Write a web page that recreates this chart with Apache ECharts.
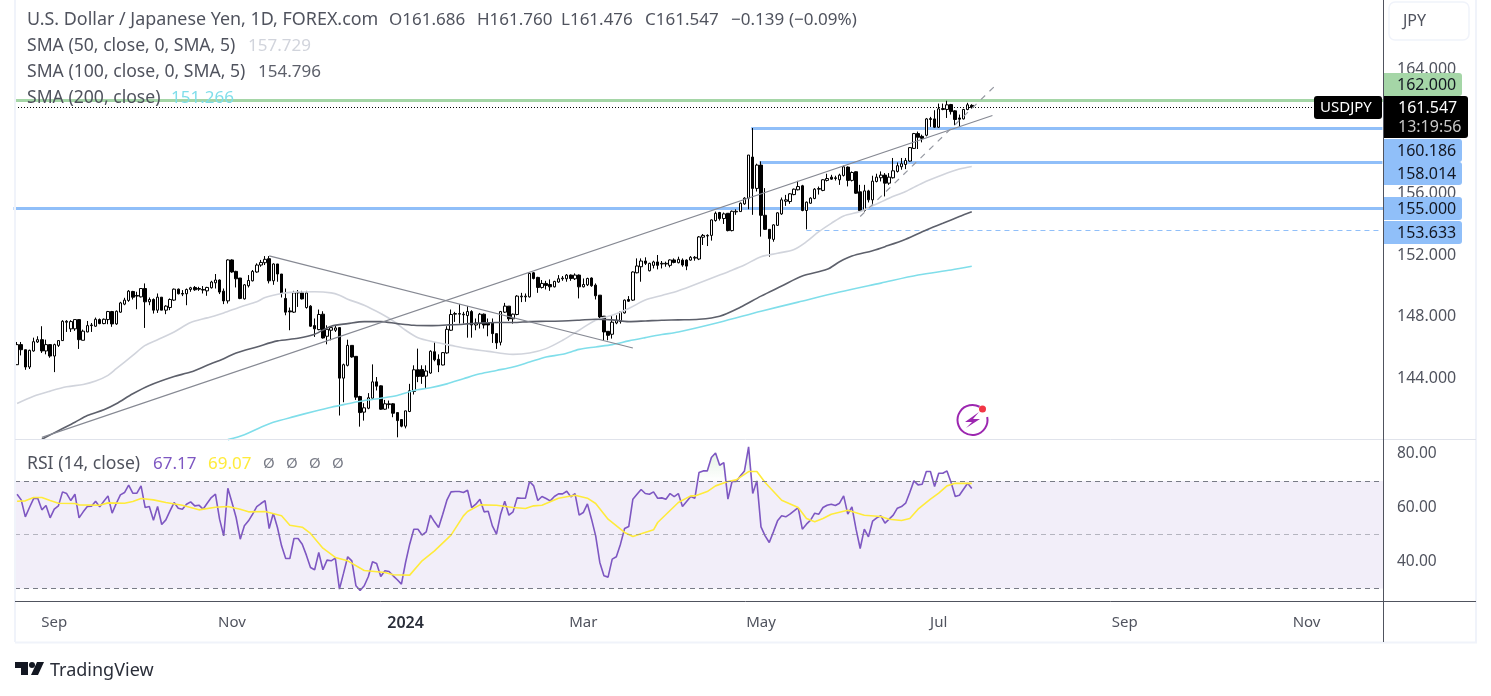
<!DOCTYPE html>
<html>
<head>
<meta charset="utf-8">
<title>USDJPY</title>
<script src="https://cdn.jsdelivr.net/npm/echarts@6/dist/echarts.min.js"></script>
<style>
html,body{margin:0;padding:0;background:#fff;}
#chart{width:1491px;height:696px;}
</style>
</head>
<body>
<div id="chart"></div>
<script>
// open, close, low, high per daily bar
var candles = [
[144.90,146.20,144.90,146.37],[146.20,145.87,145.50,146.37],[145.87,144.75,144.57,145.87],[144.75,145.83,144.62,145.87],
[145.79,146.39,145.74,146.65],[146.37,146.52,146.31,146.74],[146.52,145.79,145.66,147.39],[145.79,146.20,145.57,146.52],
[146.20,145.46,145.35,146.20],[145.46,146.20,144.42,146.26],[146.15,146.46,146.05,146.46],[146.46,147.71,146.44,147.78],
[147.65,147.71,147.02,147.78],[147.22,147.69,147.02,147.78],[147.22,147.82,147.09,147.82],[147.82,146.52,145.92,147.82],
[146.48,147.07,146.48,147.17],[147.02,147.43,147.00,147.73],[147.43,147.47,147.02,147.60],[147.39,147.84,147.35,147.95],
[147.82,147.56,147.52,147.89],[147.56,147.84,147.52,147.89],[147.82,148.34,147.52,148.38],[148.34,147.54,147.35,148.38],
[147.54,148.36,147.48,148.41],[148.30,148.90,148.26,148.97],[148.82,149.08,148.75,149.23],[149.06,149.66,148.97,149.73],
[149.64,149.27,149.12,149.68],[149.38,149.34,148.49,149.62],[149.29,149.83,149.25,149.86],[149.83,148.97,147.28,150.16],
[148.97,149.12,148.75,149.25],[149.12,148.43,148.21,149.19],[148.43,149.27,148.25,149.51],[149.27,148.43,148.43,149.27],
[148.43,148.69,148.17,148.75],[148.60,149.12,148.43,149.19],[149.08,149.79,149.03,149.83],[149.79,149.49,149.45,149.83],
[149.51,149.47,149.34,149.73],[149.49,149.77,148.75,149.83],[149.77,149.88,149.62,149.94],[149.90,149.75,149.68,149.99],
[149.83,149.79,149.68,149.94],[149.77,149.73,149.51,149.99],[149.68,149.90,149.36,149.94],[149.88,150.25,149.83,150.33],
[150.20,150.38,149.83,150.77],[150.38,149.60,149.47,150.42],[149.66,149.03,148.82,149.83],[149.03,151.68,148.86,151.72],
[151.68,150.90,150.85,151.72],[150.94,150.46,149.90,150.98],[150.51,149.19,149.14,150.51],[149.16,150.07,149.12,150.12],
[150.01,150.35,149.90,150.70],[150.33,150.94,150.29,151.03],[150.90,151.35,150.85,151.46],[151.35,151.52,151.24,151.68],
[151.50,151.72,151.35,151.93],[151.76,150.33,150.16,151.93],[150.33,151.42,150.07,151.46],[151.42,150.77,150.27,151.42],
[150.77,149.55,149.25,150.77],[149.19,148.30,148.10,149.83],[148.38,148.32,147.13,148.60],[148.30,149.55,148.25,149.68],
[149.55,149.58,148.64,149.73],[149.55,149.16,149.12,149.68],[148.60,149.55,148.53,149.68],[148.69,147.39,147.35,148.75],
[147.43,147.22,146.70,147.89],[147.17,148.15,147.13,148.47],[148.17,146.63,146.59,148.36],[146.74,147.19,146.22,147.45],
[147.13,147.30,146.48,147.39],[147.13,147.28,147.02,147.45],[147.30,144.03,141.61,147.30],[144.03,144.90,142.47,144.97],
[144.86,146.15,144.79,146.52],[146.15,145.40,145.35,146.15],[145.44,142.80,142.62,145.44],[142.84,141.80,140.89,142.89],
[141.83,142.11,141.28,142.41],[142.08,142.76,142.02,143.06],[142.73,143.79,142.69,144.92],[143.79,143.51,143.23,144.10],
[143.53,142.02,141.98,143.56],[142.02,142.37,141.98,142.62],[142.32,142.37,142.06,142.58],[142.37,141.76,141.50,142.41],
[141.80,141.28,140.20,141.80],[141.35,140.92,140.85,141.35],[140.92,141.91,140.78,141.93],[141.87,143.21,141.83,143.66],
[143.17,144.57,142.97,144.86],[144.57,144.14,143.77,145.94],[144.59,144.14,143.66,144.86],[144.16,144.49,143.34,144.86],
[144.36,145.77,144.31,145.83],[145.74,145.22,145.12,146.37],[145.25,144.88,144.42,145.57],[144.88,145.68,144.86,145.72],
[145.66,147.19,145.61,147.39],[147.13,148.15,147.09,148.47],[148.17,148.21,147.67,148.32],[148.17,148.21,147.56,148.82],
[148.13,148.17,147.56,148.32],[148.08,148.34,146.65,148.69],[148.34,147.47,146.65,148.43],[147.47,147.60,147.13,147.89],
[147.56,148.17,147.24,148.25],[148.17,147.47,147.24,148.21],[147.60,147.47,146.74,147.89],[147.60,146.91,146.31,147.89],
[146.91,146.31,145.92,146.91],[146.35,148.34,146.15,148.38],[148.30,148.69,148.25,148.90],[148.69,147.87,147.73,148.69],
[147.87,148.17,147.56,148.21],[148.15,149.34,148.10,149.40],[149.29,149.34,148.95,149.55],[149.29,149.34,148.97,149.51],
[149.29,150.81,149.25,150.85],[150.85,150.48,150.42,150.90],[150.55,149.90,149.55,150.59],[149.90,150.16,149.83,150.38],
[150.16,150.03,149.77,150.33],[150.09,149.94,149.68,150.42],[149.94,150.29,149.90,150.33],[150.25,150.46,150.20,150.70],
[150.46,150.51,150.33,150.64],[150.46,150.70,150.27,150.77],[150.70,150.48,150.33,150.74],[150.46,150.70,150.38,150.81],
[150.70,149.94,149.19,150.74],[149.94,150.09,149.90,150.48],[150.07,150.48,149.99,150.53],[150.51,150.01,149.94,150.55],
[150.05,149.36,149.12,150.16],[149.40,147.99,147.89,149.40],[148.04,147.02,146.44,148.04],[147.06,146.80,146.48,147.06],
[146.87,147.65,146.59,148.10],[147.60,147.78,147.52,148.10],[147.69,148.32,147.56,148.36],[148.25,149.08,148.21,149.12],
[149.12,149.01,148.97,149.34],[149.08,150.90,149.03,150.94],[150.85,151.29,150.81,151.78],[151.24,151.61,150.27,151.78],
[151.61,151.46,151.35,151.85],[150.98,151.46,150.94,151.50],[151.33,151.55,151.13,151.63],[151.55,151.33,151.07,152.00],
[151.42,151.46,151.13,151.61],[151.42,151.46,151.24,151.57],[151.33,151.68,151.20,151.72],[151.68,151.52,151.46,151.78],
[151.50,151.72,151.46,151.89],[151.67,151.35,151.24,151.78],[151.67,151.28,151.02,151.72],[151.67,151.85,151.63,151.93],
[151.80,151.85,151.63,151.93],[151.74,153.17,151.67,153.23],[153.15,153.27,152.65,153.36],[153.23,153.27,152.58,153.34],
[153.27,154.27,152.93,154.31],[154.23,154.70,154.16,154.81],[154.75,154.36,154.23,154.79],[154.36,154.66,154.01,154.75],
[154.70,153.58,153.53,154.70],[153.58,154.83,153.53,154.88],[154.79,154.83,154.60,154.96],[154.81,155.35,154.81,155.40],
[155.31,155.68,155.25,155.74],[155.68,158.47,154.96,158.47],[158.34,156.31,154.60,160.22],[156.31,157.82,156.11,157.91],
[157.82,154.57,153.19,158.06],[154.57,153.66,153.62,156.33],[153.66,153.06,151.89,153.66],[153.01,153.95,152.86,153.99],
[153.92,154.73,153.88,154.77],[154.66,155.57,154.60,155.72],[155.48,155.57,155.18,155.89],[155.46,155.96,155.31,156.00],
[155.91,156.26,155.87,156.30],[156.22,156.43,156.18,156.80],[156.48,154.88,154.83,156.54],[154.88,155.42,153.66,155.46],
[155.35,155.68,155.31,155.74],[155.66,156.26,155.61,156.33],[156.26,156.30,155.91,156.43],[156.18,156.87,156.13,156.91],
[156.83,156.95,156.76,157.26],[157.04,156.91,156.87,157.19],[156.95,157.00,156.82,157.13],[156.87,157.17,156.54,157.26],
[157.15,157.71,157.08,157.78],[157.69,156.83,156.44,157.73],[156.83,157.34,156.76,157.41],[157.39,156.00,155.96,157.41],
[156.09,154.88,154.81,156.54],[154.88,156.15,154.81,156.54],[156.15,155.57,155.40,156.22],[155.57,156.78,155.18,157.13],
[156.76,157.04,156.70,157.26],[157.00,157.17,156.76,157.41],[157.17,156.65,155.79,157.30],[156.65,157.04,156.54,157.30],
[157.00,157.45,156.95,158.28],[157.41,157.78,157.34,157.99],[157.71,157.91,157.52,158.28],[157.86,158.12,157.56,158.28],
[158.08,158.95,158.04,158.99],[158.90,159.86,158.86,159.90],[159.86,159.62,158.86,159.99],[159.68,159.55,159.29,159.79],
[159.75,160.81,159.68,160.87],[160.77,160.83,160.29,160.94],[160.81,160.27,160.22,161.37],[160.27,161.46,160.22,161.80],
[161.42,161.48,161.37,161.80],[161.42,161.72,160.87,161.98],[161.74,161.28,161.09,161.78],[161.33,160.77,160.40,161.37],
[160.87,160.79,160.33,161.09],[160.81,161.42,160.77,161.46],[161.42,161.72,161.37,161.85],[161.686,161.547,161.476,161.760]
];

var sma50Bars = [0,4,8,12,16,19,22,24,28,31,34,38,42,46,50,54,58,60,64,67,72,76,78,80,84,88,91,94,97,101,105,109,114,118,120,124,128,132,136,140,144,148,152,156,160,173,176,180,184,188,191,194,197,200,204,207,211,215,219,224,228,231];
var sma50Values = [142.39,142.86,143.19,143.47,143.62,143.84,144.21,144.64,145.50,146.15,146.52,147.02,147.63,147.93,148.25,148.64,148.97,149.25,149.51,149.60,149.62,149.55,149.40,149.14,148.75,148.21,147.73,147.13,146.65,146.37,146.15,145.94,145.76,145.61,145.57,145.66,145.94,146.48,147.13,147.78,148.10,148.54,149.08,149.38,149.68,151.02,151.35,151.89,152.11,152.36,152.86,153.51,154.05,154.53,154.81,155.18,155.68,156.11,156.65,157.19,157.56,157.73];

var sma100Bars = [6,10,14,17,21,24,28,32,38,42,46,50,53,58,63,68,72,76,80,84,88,92,96,100,104,108,112,116,120,124,128,132,136,140,144,148,152,156,160,165,170,175,180,185,190,196,199,202,207,210,215,220,224,228,231];
var sma100Values = [140.07,140.63,141.17,141.61,141.98,142.37,143.02,143.56,144.14,144.42,144.86,145.29,145.66,146.05,146.44,146.61,146.87,147.39,147.56,147.69,147.69,147.56,147.45,147.43,147.47,147.52,147.60,147.63,147.63,147.69,147.71,147.73,147.78,147.84,147.80,147.69,147.73,147.78,147.80,147.84,148.04,148.62,149.34,149.99,150.64,151.07,151.56,151.93,152.28,152.54,153.02,153.62,154.05,154.49,154.80];

var sma200Bars = [51,55,59,62,67,72,76,80,84,88,92,96,100,104,108,112,116,120,124,128,132,136,140,144,148,152,156,160,170,180,189,199,209,218,226,231];
var sma200Values = [140.05,140.37,140.85,141.17,141.54,141.89,142.15,142.37,142.58,142.73,142.91,143.23,143.41,143.66,143.99,144.31,144.53,144.75,145.07,145.40,145.57,145.89,146.05,146.20,146.44,146.65,146.85,147.02,147.65,148.36,148.95,149.60,150.18,150.70,151.03,151.27];

var rsiValues = [
65.05,62.95,56.64,60.10,63.44,63.57,59.24,60.84,56.26,59.48,60.72,65.92,65.30,62.70,65.05,56.26,58.49,60.47,60.60,62.45,
60.35,62.45,64.43,58.00,61.59,64.81,65.67,68.40,65.42,65.42,68.15,60.10,60.47,55.40,60.47,53.79,55.52,58.86,61.96,59.85,
59.48,61.34,62.21,60.72,60.97,59.48,61.71,63.81,65.05,55.77,49.58,67.28,61.96,56.39,48.34,53.29,55.15,57.63,60.47,61.59,
62.70,52.30,58.00,52.67,45.86,41.16,41.16,48.59,48.59,46.48,42.40,37.82,36.95,43.39,36.95,40.54,40.29,41.28,29.77,35.71,
41.78,40.29,31.01,29.27,31.01,34.47,39.92,39.30,34.47,36.58,36.33,34.72,33.24,31.63,39.67,46.48,52.05,52.05,49.83,51.06,
57.25,54.78,52.67,57.63,62.82,65.92,66.04,66.04,65.67,66.54,60.10,61.34,63.20,58.49,58.74,53.29,50.20,57.63,62.45,57.25,
58.49,63.69,63.57,63.57,69.76,68.15,62.70,64.19,63.44,62.58,64.19,65.18,65.18,66.17,64.06,65.30,57.25,58.24,61.46,55.77,
49.58,39.67,34.72,34.23,40.91,41.78,46.48,52.30,53.04,63.20,65.05,66.79,65.30,65.05,65.92,63.57,63.69,63.20,65.30,64.19,
65.30,60.47,62.33,64.19,63.57,73.10,73.72,73.72,78.67,80.40,75.82,76.81,63.20,69.76,69.76,71.86,73.72,82.63,65.30,70.01,
52.92,49.58,47.10,51.06,55.15,57.01,56.64,57.63,58.86,60.10,52.05,53.91,55.40,58.00,57.63,60.10,60.97,61.34,60.84,61.71,
64.43,57.63,60.35,52.05,44.87,52.05,49.21,55.02,56.26,57.01,54.28,55.77,57.25,59.85,60.47,61.71,65.67,70.01,68.52,68.77,
73.47,73.47,67.90,72.85,72.85,73.72,69.39,64.19,64.68,66.91,69.14,67.17
];
var rsiMaBars = [0,2,4,6,8,10,14,15,20,22,26,28,30,33,36,40,44,48,51,54,56,60,64,66,69,71,74,77,80,84,89,91,95,98,101,105,108,109,112,116,120,123,125,127,131,135,138,140,143,147,149,151,154,155,160,163,164,167,169,172,174,177,179,181,185,189,191,193,195,197,201,205,209,211,214,216,218,221,223,225,227,231];
var rsiMaValues = [62.45,62.58,63.81,63.81,62.70,61.71,61.59,61.09,60.97,61.83,61.71,62.33,63.44,62.95,61.96,60.97,59.24,60.22,60.47,59.48,58.49,58.61,57.01,53.54,52.80,50.45,45.00,41.53,40.29,36.70,35.96,35.09,34.97,40.29,44.01,49.83,57.01,58.61,61.09,60.97,60.10,59.73,60.72,60.97,63.57,64.68,63.57,61.59,55.77,50.82,49.33,50.32,51.81,54.53,61.96,64.43,64.43,66.04,68.15,69.76,70.38,73.47,73.47,69.39,62.82,60.10,56.02,54.78,56.02,57.63,59.11,57.25,56.76,55.77,55.27,56.02,59.48,63.20,65.42,68.15,69.14,69.07];
var rsiBands = [70, 50, 30];

var barSlots = 331;
var tickBars = [9, 52, 94, 137, 180, 223, 268, 312];
var tickLabels = ['Sep', 'Nov', '2024', 'Mar', 'May', 'Jul', 'Sep', 'Nov'];

var priceTicksHidden = [140, 160, 168];
var lastPrice = 161.547;
var greenLevel = 162.000;
var blueLevels = [160.186, 158.014, 155.000, 153.633];
var blueStartBars = [178, 180, 0, 191];
var blueDashed = [false, false, false, true];
var tagTops = [139, 162, 197, 221];

var trendUp = [[6, 140.20], [236, 161.03]];
var trendDown = [[61, 151.94], [149, 145.98]];
var trendDashed = [[204, 154.49], [237, 163.04]];

var headerName = 'U.S. Dollar / Japanese Yen, 1D, FOREX.com';
var headerOhlc = ['O161.686', 'H161.760', 'L161.476', 'C161.547', '\u22120.139', '(\u22120.09%)'];
var headerOhlcX = [389, 477, 561, 645, 731, 789];

var FONT = '"Noto Sans", sans-serif';
var TEXT = '#50535e';
var GRID = { left: 15, width: 1368 };

function pairs(bars, values) {
	return bars.map(function (b, i) { return [b, values[i]]; });
}
function smaSeries(name, bars, values, color) {
	return {
		name: name, type: 'line', xAxisIndex: 0, yAxisIndex: 0, z: 3,
		data: pairs(bars, values), showSymbol: false, symbol: 'none', smooth: 0.3,
		lineStyle: { color: color, width: 1.6 }, silent: true
	};
}
function segment(pts) {
	return [{ coord: pts[0] }, { coord: pts[1] }];
}
function txt(x, y, text, color, size, extra) {
	var el = {
		type: 'text', x: x, y: y, z: 60, silent: true,
		style: { text: text, fill: color, font: (size || 16) + 'px ' + FONT, verticalAlign: 'middle', align: 'left' }
	};
	if (extra) { for (var k in extra) { el.style[k] = extra[k]; } }
	return el;
}
function hline(x1, x2, y, color, w) {
	return { type: 'line', z: 40, silent: true, shape: { x1: x1, y1: y, x2: x2, y2: y }, style: { stroke: color, lineWidth: w } };
}
function vline(x, y1, y2, color, w) {
	return { type: 'line', z: 40, silent: true, shape: { x1: x, y1: y1, x2: x, y2: y2 }, style: { stroke: color, lineWidth: w } };
}
function tag(x, y, w, h, fill, r) {
	return { type: 'rect', z: 50, silent: true, shape: { x: x, y: y, width: w, height: h, r: r }, style: { fill: fill } };
}

var graphics = [
	// frame
	vline(15, 0, 642, '#f0f3fa', 2),
	vline(1476, 0, 642, '#f0f3fa', 2),
	hline(15, 1477, 642.5, '#f0f3fa', 2),
	hline(15, 1476, 439.5, '#e0e3eb', 1),
	hline(15, 1476, 601.5, '#50535e', 1),
	vline(1383.5, 0, 642, '#50535e', 1),
	// currency button
	{ type: 'rect', z: 50, silent: true, shape: { x: 1389, y: 2, width: 80, height: 38, r: 6 }, style: { fill: '#fff', stroke: '#f0f3fa', lineWidth: 1.5 } },
	txt(1403, 21, 'JPY', TEXT, 16),
	// legend
	txt(27, 20, headerName, TEXT, 17.9),
	txt(27, 46, 'SMA (50, close, 0, SMA, 5)', TEXT, 17.6),
	txt(248, 46, '157.729', '#d1d4dc', 17),
	txt(27, 72, 'SMA (100, close, 0, SMA, 5)', TEXT, 17.6),
	txt(258, 72, '154.796', '#5d606b', 17),
	txt(27, 98, 'SMA (200, close)', TEXT, 17.6),
	txt(171, 98, '151.266', '#80deea', 17),
	txt(27, 464, 'RSI (14, close)', TEXT, 17.6),
	txt(153, 464, '67.17', '#7e57c2', 17),
	txt(208, 464, '69.07', '#ffeb3b', 17),
	txt(263, 464, '\u00d8', '#787b86', 15),
	txt(286, 464, '\u00d8', '#787b86', 15),
	txt(309, 464, '\u00d8', '#787b86', 15),
	txt(332, 464, '\u00d8', '#787b86', 15),
	// price tags
	tag(1384, 73, 78, 23, '#a5d6a7', [0, 3, 3, 0]),
	txt(1397, 85, greenLevel.toFixed(3), '#131722', 16),
	tag(1314, 96, 68, 23, '#000', 3),
	txt(1320, 108, 'USDJPY', '#fff', 15),
	tag(1384, 96, 84, 42, '#000', [0, 3, 3, 0]),
	txt(1398, 108, lastPrice.toFixed(3), '#fff', 16),
	txt(1398, 127, '13:19:56', '#c8c8c8', 16),
	// lightning icon
	{ type: 'arc', z: 50, silent: true, shape: { cx: 972.5, cy: 420, r: 15, startAngle: -0.2, endAngle: 5.2 }, style: { stroke: '#9c27b0', lineWidth: 2, fill: null } },
	{ type: 'polygon', z: 50, silent: true, shape: { points: [[979, 412], [965, 422], [972, 422], [966, 428], [980, 419], [973, 419]] }, style: { fill: '#9c27b0' } },
	{ type: 'circle', z: 51, silent: true, shape: { cx: 982.5, cy: 409, r: 3.5 }, style: { fill: '#f23645' } },
	// logo
	{ type: 'polygon', z: 50, silent: true, shape: { points: [[15, 662], [28, 662], [28, 675], [21, 675], [21, 668], [15, 668]] }, style: { fill: '#131722' } },
	{ type: 'circle', z: 50, silent: true, shape: { cx: 32, cy: 665, r: 3 }, style: { fill: '#131722' } },
	{ type: 'polygon', z: 50, silent: true, shape: { points: [[37, 662], [44, 662], [38, 675], [31, 675]] }, style: { fill: '#131722' } },
	txt(50, 671, 'TradingView', '#2a2e39', 18)
];
headerOhlc.forEach(function (t, i) { graphics.push(txt(headerOhlcX[i], 20, t, TEXT, 17)); });
blueLevels.forEach(function (v, i) {
	graphics.push(tag(1384, tagTops[i], 78, 23, '#90bff9', [0, 3, 3, 0]));
	graphics.push(txt(1397, tagTops[i] + 12, v.toFixed(3), '#131722', 16));
});

var levelLines = [
	{ yAxis: greenLevel, lineStyle: { color: '#a5d6a7', width: 3, type: 'solid' } },
	{ yAxis: lastPrice, lineStyle: { color: '#000', width: 1, type: [1, 2] } }
];
blueLevels.forEach(function (v, i) {
	var style = blueDashed[i] ? { color: '#90bff9', width: 1, type: [5, 4] } : { color: '#90bff9', width: 3, type: 'solid', cap: 'square' };
	if (blueStartBars[i] === 0) {
		levelLines.push({ yAxis: v, lineStyle: style });
	} else {
		levelLines.push([{ coord: [blueStartBars[i], v], lineStyle: style }, { coord: [barSlots - 1, v] }]);
	}
});

var option = {
	animation: false,
	textStyle: { fontFamily: FONT },
	grid: [
		{ left: GRID.left, width: GRID.width, top: 7.8, height: 432.6, containLabel: false },
		{ left: GRID.left, width: GRID.width, top: 440.55, height: 161.4, containLabel: false }
	],
	xAxis: [
		{ type: 'category', gridIndex: 0, show: false, data: Array.from({ length: barSlots }, function (v, i) { return String(i); }) },
		{
			type: 'category', gridIndex: 1,
			data: Array.from({ length: barSlots }, function (v, i) { return String(i); }),
			axisLine: { show: false }, axisTick: { show: false },
			axisLabel: {
				margin: 13, color: TEXT, fontSize: 15, fontFamily: FONT, align: 'center',
				interval: function (i) { return tickBars.indexOf(i) >= 0; },
				formatter: function (v) {
					var l = tickLabels[tickBars.indexOf(+v)];
					return l === '2024' ? '{y|' + l + '}' : l;
				},
				rich: { y: { fontSize: 16, fontWeight: 600, color: '#2a2e39', fontFamily: FONT } }
			}
		}
	],
	yAxis: [
		{
			type: 'value', gridIndex: 0, position: 'right', min: 140, max: 168, interval: 4, scale: true,
			splitLine: { show: false }, axisLine: { show: false }, axisTick: { show: false },
			axisLabel: {
				margin: 14, color: TEXT, fontSize: 16, fontFamily: FONT, padding: [2, 0, 0, 0],
				formatter: function (v) { return priceTicksHidden.indexOf(v) >= 0 ? '' : v.toFixed(3); }
			}
		},
		{
			type: 'value', gridIndex: 1, position: 'right', min: 25, max: 85, interval: 5,
			splitLine: { show: false }, axisLine: { show: false }, axisTick: { show: false },
			axisLabel: {
				margin: 14, color: TEXT, fontSize: 15.5, fontFamily: FONT, padding: [4, 0, 0, 0],
				formatter: function (v) { return (v === 40 || v === 60 || v === 80) ? v.toFixed(2) : ''; }
			}
		}
	],
	series: [
		{
			name: 'levels', type: 'line', xAxisIndex: 0, yAxisIndex: 0, data: [], silent: true, z: 1,
			markLine: { z: 1, silent: true, symbol: 'none', label: { show: false }, emphasis: { disabled: true }, data: levelLines }
		},
		{
			name: 'USDJPY', type: 'candlestick', xAxisIndex: 0, yAxisIndex: 0, z: 2, barWidth: 3,
			data: candles, silent: true,
			itemStyle: { color: '#fff', color0: '#000', borderColor: '#000', borderColor0: '#000', borderWidth: 1 }
		},
		smaSeries('SMA 50', sma50Bars, sma50Values, '#d1d4dc'),
		smaSeries('SMA 100', sma100Bars, sma100Values, '#5d606b'),
		smaSeries('SMA 200', sma200Bars, sma200Values, '#80deea'),
		{
			name: 'drawings', type: 'line', xAxisIndex: 0, yAxisIndex: 0, data: [], silent: true,
			markLine: {
				z: 4, silent: true, symbol: 'none', label: { show: false }, emphasis: { disabled: true },
				lineStyle: { color: '#868993', width: 1.2, type: 'solid' },
				data: [segment(trendUp), segment(trendDown),
					[{ coord: trendDashed[0], lineStyle: { color: '#9598a1', width: 1.2, type: [6, 6] } }, { coord: trendDashed[1] }]]
			}
		},
		{
			name: 'obBase', type: 'line', xAxisIndex: 1, yAxisIndex: 1, stack: 'ob', symbol: 'none', silent: true,
			data: rsiValues.map(function () { return rsiBands[0]; }), lineStyle: { opacity: 0 }
		},
		{
			name: 'obFill', type: 'line', xAxisIndex: 1, yAxisIndex: 1, stack: 'ob', symbol: 'none', silent: true,
			data: rsiValues.map(function (v) { return Math.max(v - rsiBands[0], 0); }), lineStyle: { opacity: 0 },
			areaStyle: {
				color: new echarts.graphic.LinearGradient(0, 0, 0, 1, [
					{ offset: 0, color: 'rgba(76,175,80,0.25)' }, { offset: 1, color: 'rgba(76,175,80,0)' }
				])
			}
		},
		{
			name: 'RSI', type: 'line', xAxisIndex: 1, yAxisIndex: 1, z: 3, symbol: 'none', silent: true,
			data: rsiValues, lineStyle: { color: '#7e57c2', width: 1.6 },
			markArea: {
				silent: true, itemStyle: { color: 'rgba(126,87,194,0.1)' }, label: { show: false },
				data: [[{ yAxis: rsiBands[0] }, { yAxis: rsiBands[2] }]]
			},
			markLine: {
				silent: true, symbol: 'none', label: { show: false },
				data: [
					{ yAxis: rsiBands[0], lineStyle: { color: '#787b86', width: 1, type: [5, 4] } },
					{ yAxis: rsiBands[1], lineStyle: { color: 'rgba(120,123,134,0.5)', width: 1, type: [5, 4] } },
					{ yAxis: rsiBands[2], lineStyle: { color: '#787b86', width: 1, type: [5, 4] } }
				]
			}
		},
		{
			name: 'RSI MA', type: 'line', xAxisIndex: 1, yAxisIndex: 1, z: 4, symbol: 'none', silent: true,
			data: pairs(rsiMaBars, rsiMaValues), lineStyle: { color: '#ffeb3b', width: 1.6 }
		}
	],
	graphic: { elements: graphics }
};

var chart = echarts.init(document.getElementById('chart'));
chart.setOption(option);
</script>
</body>
</html>
